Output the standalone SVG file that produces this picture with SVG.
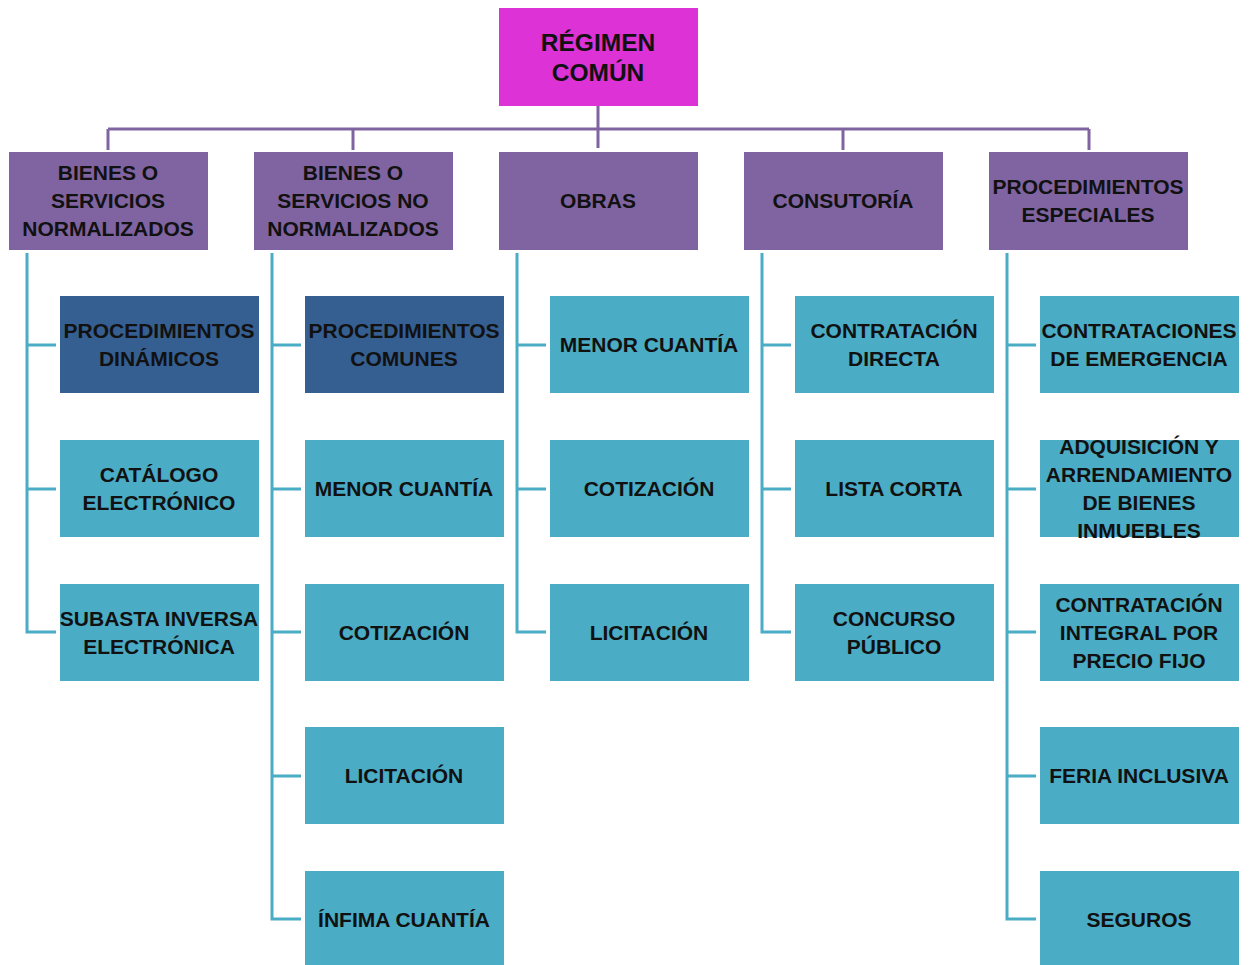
<svg xmlns="http://www.w3.org/2000/svg" width="1254" height="965" viewBox="0 0 1254 965">
<style>
.t{font-family:"Liberation Sans",Arial,sans-serif;font-weight:bold;font-size:21px;fill:#111;text-anchor:middle;dominant-baseline:central}
.big{font-size:24.5px}
.root{fill:#dc32d6}
.l1{fill:#8064a2}
.dk{fill:#365f91}
.lt{fill:#4bacc6}
.bus{stroke:#8064a2;stroke-width:3;fill:none}
.br{stroke:#4bacc6;stroke-width:3;fill:none}
</style>
<g id="connectors">
<path class="bus" d="M598 106V148M108 129H1089M108 129V150M353 129V150M843 129V150M1089 129V150"/>
<path class="br" d="M27 253V632H56M27 345H56M27 489H56"/>
<path class="br" d="M272 253V919H301M272 345H301M272 489H301M272 632H301M272 776H301"/>
<path class="br" d="M517 253V632H546M517 345H546M517 489H546"/>
<path class="br" d="M762 253V632H791M762 345H791M762 489H791"/>
<path class="br" d="M1007 253V919H1036M1007 345H1036M1007 489H1036M1007 632H1036M1007 776H1036"/>
</g>
<g id="root"><rect class="root" x="499" y="8" width="199" height="98"/><text class="t big" x="598" y="42">RÉGIMEN</text><text class="t big" x="598" y="72">COMÚN</text></g>
<g id="n1"><rect class="l1" x="9" y="152" width="199" height="98"/><text class="t" x="108" y="172">BIENES O</text><text class="t" x="108" y="200">SERVICIOS</text><text class="t" x="108" y="228">NORMALIZADOS</text></g>
<g id="n2"><rect class="l1" x="254" y="152" width="199" height="98"/><text class="t" x="353" y="172">BIENES O</text><text class="t" x="353" y="200">SERVICIOS NO</text><text class="t" x="353" y="228">NORMALIZADOS</text></g>
<g id="n3"><rect class="l1" x="499" y="152" width="199" height="98"/><text class="t" x="598" y="200">OBRAS</text></g>
<g id="n4"><rect class="l1" x="744" y="152" width="199" height="98"/><text class="t" x="843" y="200">CONSUTORÍA</text></g>
<g id="n5"><rect class="l1" x="989" y="152" width="199" height="98"/><text class="t" x="1088" y="186">PROCEDIMIENTOS</text><text class="t" x="1088" y="214">ESPECIALES</text></g>
<g id="n1a"><rect class="dk" x="60" y="296" width="199" height="97"/><text class="t" x="159" y="330">PROCEDIMIENTOS</text><text class="t" x="159" y="358">DINÁMICOS</text></g>
<g id="n1b"><rect class="lt" x="60" y="440" width="199" height="97"/><text class="t" x="159" y="474">CATÁLOGO</text><text class="t" x="159" y="502">ELECTRÓNICO</text></g>
<g id="n1c"><rect class="lt" x="60" y="584" width="199" height="97"/><text class="t" x="159" y="618">SUBASTA INVERSA</text><text class="t" x="159" y="646">ELECTRÓNICA</text></g>
<g id="n2a"><rect class="dk" x="305" y="296" width="199" height="97"/><text class="t" x="404" y="330">PROCEDIMIENTOS</text><text class="t" x="404" y="358">COMUNES</text></g>
<g id="n2b"><rect class="lt" x="305" y="440" width="199" height="97"/><text class="t" x="404" y="488">MENOR CUANTÍA</text></g>
<g id="n2c"><rect class="lt" x="305" y="584" width="199" height="97"/><text class="t" x="404" y="632">COTIZACIÓN</text></g>
<g id="n2d"><rect class="lt" x="305" y="727" width="199" height="97"/><text class="t" x="404" y="775">LICITACIÓN</text></g>
<g id="n2e"><rect class="lt" x="305" y="871" width="199" height="97"/><text class="t" x="404" y="919">ÍNFIMA CUANTÍA</text></g>
<g id="n3a"><rect class="lt" x="550" y="296" width="199" height="97"/><text class="t" x="649" y="344">MENOR CUANTÍA</text></g>
<g id="n3b"><rect class="lt" x="550" y="440" width="199" height="97"/><text class="t" x="649" y="488">COTIZACIÓN</text></g>
<g id="n3c"><rect class="lt" x="550" y="584" width="199" height="97"/><text class="t" x="649" y="632">LICITACIÓN</text></g>
<g id="n4a"><rect class="lt" x="795" y="296" width="199" height="97"/><text class="t" x="894" y="330">CONTRATACIÓN</text><text class="t" x="894" y="358">DIRECTA</text></g>
<g id="n4b"><rect class="lt" x="795" y="440" width="199" height="97"/><text class="t" x="894" y="488">LISTA CORTA</text></g>
<g id="n4c"><rect class="lt" x="795" y="584" width="199" height="97"/><text class="t" x="894" y="618">CONCURSO</text><text class="t" x="894" y="646">PÚBLICO</text></g>
<g id="n5a"><rect class="lt" x="1040" y="296" width="199" height="97"/><text class="t" x="1139" y="330">CONTRATACIONES</text><text class="t" x="1139" y="358">DE EMERGENCIA</text></g>
<g id="n5b"><rect class="lt" x="1040" y="440" width="199" height="97"/><text class="t" x="1139" y="446">ADQUISICIÓN Y</text><text class="t" x="1139" y="474">ARRENDAMIENTO</text><text class="t" x="1139" y="502">DE BIENES</text><text class="t" x="1139" y="530">INMUEBLES</text></g>
<g id="n5c"><rect class="lt" x="1040" y="584" width="199" height="97"/><text class="t" x="1139" y="604">CONTRATACIÓN</text><text class="t" x="1139" y="632">INTEGRAL POR</text><text class="t" x="1139" y="660">PRECIO FIJO</text></g>
<g id="n5d"><rect class="lt" x="1040" y="727" width="199" height="97"/><text class="t" x="1139" y="775">FERIA INCLUSIVA</text></g>
<g id="n5e"><rect class="lt" x="1040" y="871" width="199" height="97"/><text class="t" x="1139" y="919">SEGUROS</text></g>
</svg>
